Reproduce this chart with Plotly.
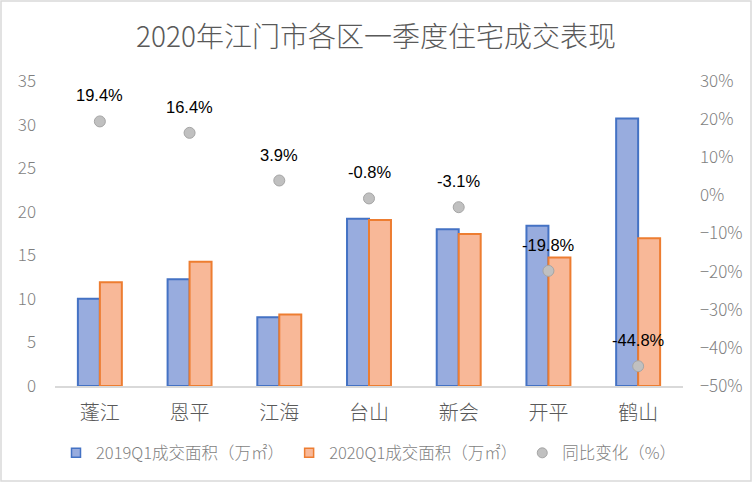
import plotly.graph_objects as go

categories = ["蓬江", "恩平", "江海", "台山", "新会", "开平", "鹤山"]
area_2019 = [10.0, 12.25, 7.9, 19.2, 18.0, 18.4, 30.7]
area_2020 = [11.9, 14.26, 8.21, 19.05, 17.44, 14.76, 16.95]
yoy_pct = [19.4, 16.4, 3.9, -0.8, -3.1, -19.8, -44.8]

name_2019 = "2019Q1成交面积（万㎡）"
name_2020 = "2020Q1成交面积（万㎡）"
name_yoy = "同比变化（%）"
title = "2020年江门市各区一季度住宅成交表现"

W, H = 752, 482
L, R, T, B = 55, 69, 81, 96
pw, ph = W - L - R, H - T - B

cjk = "Noto Sans CJK SC"
grey = "#7F7F7F"
blue_fill, blue_line = "#98ACDE", "#4472C4"
orange_fill, orange_line = "#F8B898", "#ED7D31"

fig = go.Figure()
fig.add_trace(go.Bar(
    x=categories, y=area_2019, name=name_2019, showlegend=False,
    marker=dict(color=blue_fill, line=dict(color=blue_line, width=2)),
))
fig.add_trace(go.Bar(
    x=categories, y=area_2020, name=name_2020, showlegend=False,
    marker=dict(color=orange_fill, line=dict(color=orange_line, width=2)),
))
fig.add_trace(go.Scatter(
    x=categories, y=yoy_pct, name=name_yoy, yaxis="y2", mode="markers", showlegend=False,
    marker=dict(size=11, color="#C0C0C0", line=dict(color="#A5A5A5", width=1)),
))
# legend entries with small symbols
fig.add_trace(go.Scatter(x=[None], y=[None], name=name_2019, mode="markers",
                         marker=dict(symbol="square", size=9, color=blue_fill,
                                     line=dict(color=blue_line, width=1.5))))
fig.add_trace(go.Scatter(x=[None], y=[None], name=name_2020, mode="markers",
                         marker=dict(symbol="square", size=9, color=orange_fill,
                                     line=dict(color=orange_line, width=1.5))))
fig.add_trace(go.Scatter(x=[None], y=[None], name=name_yoy, mode="markers",
                         marker=dict(symbol="circle", size=10, color="#C0C0C0",
                                     line=dict(color="#A5A5A5", width=1))))

annotations = [
    dict(x=c, y=v, xref="x", yref="y2", text=f"{v:.1f}%", showarrow=False,
         yshift=26, font=dict(family="Liberation Sans", size=16.5, color="#000000"))
    for c, v in zip(categories, yoy_pct)
]

fig.update_layout(
    width=W, height=H,
    margin=dict(l=L, r=R, t=T, b=B, autoexpand=False),
    paper_bgcolor="white", plot_bgcolor="white",
    barmode="group", bargap=0.51, bargroupgap=0,
    title=dict(text=title, x=0.5, xanchor="center", y=1 - 37 / H, yanchor="middle",
               font=dict(family=cjk, size=28, color="#595959", weight=300)),
    font=dict(family=cjk, color=grey),
    xaxis=dict(showline=True, linecolor="#D9D9D9", linewidth=1.5, ticks="",
               tickfont=dict(family=cjk, size=20, color="#595959", weight=300),
               showgrid=False, ticklabelstandoff=8),
    yaxis=dict(range=[0, 35], dtick=5, showgrid=False, zeroline=False,
               tickfont=dict(family=cjk, size=17, color=grey, weight=300),
               ticklabelstandoff=18),
    yaxis2=dict(range=[-50, 30], dtick=10, overlaying="y", side="right",
                showgrid=False, zeroline=False, ticksuffix="%",
                tickfont=dict(family=cjk, size=17, color=grey, weight=300),
                ticklabelstandoff=16),
    legend=dict(orientation="h", x=0.5, xanchor="center", y=-0.22, yanchor="middle",
                font=dict(family=cjk, size=16.5, color=grey, weight=300), itemwidth=30,
                traceorder="normal"),
    showlegend=True,
    annotations=annotations,
    shapes=[dict(type="rect", xref="paper", yref="paper",
                 x0=-(L - 1) / pw, x1=1 + (R - 1) / pw,
                 y0=-(B - 1) / ph, y1=1 + (T - 1) / ph,
                 line=dict(color="#D9D9D9", width=1.5), layer="below")],
)

fig.write_html("out.html", config={"displayModeBar": False},
               post_script="document.body.style.margin='0';document.body.style.overflow='hidden';")
